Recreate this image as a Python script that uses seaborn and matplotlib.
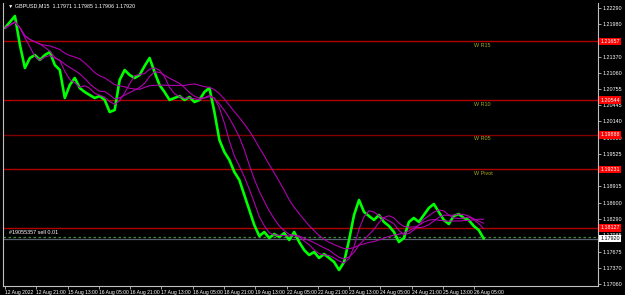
import numpy as np
import pandas as pd
import seaborn as sns
import matplotlib.pyplot as plt
import matplotlib.transforms as mtransforms

# GBPUSD M15 closes, one value every ~10 bars
close = [1.21911, 1.22025, 1.22138, 1.21589, 1.21153, 1.21343, 1.21399, 1.21305, 1.21399, 1.21456,
         1.21210, 1.21115, 1.20585, 1.20831, 1.20964, 1.20774, 1.20698, 1.20641, 1.20585, 1.20622,
         1.20547, 1.20319, 1.20357, 1.20926, 1.21115, 1.21020, 1.20964, 1.21020, 1.21191, 1.21343,
         1.21077, 1.20831, 1.20698, 1.20547, 1.20585, 1.20622, 1.20547, 1.20603, 1.20509, 1.20547,
         1.20698, 1.20774, 1.20319, 1.19789, 1.19561, 1.19410, 1.19182, 1.19031, 1.18746, 1.18462,
         1.18178, 1.17969, 1.18045, 1.17932, 1.18007, 1.17950, 1.18026, 1.17894, 1.18045, 1.17856,
         1.17704, 1.17609, 1.17666, 1.17553, 1.17628, 1.17553, 1.17477, 1.17325, 1.17477, 1.17894,
         1.18367, 1.18652, 1.18424, 1.18348, 1.18273, 1.18367, 1.18235, 1.18159, 1.18045, 1.17856,
         1.17932, 1.18235, 1.18311, 1.18235, 1.18367, 1.18500, 1.18576, 1.18424, 1.18273, 1.18197,
         1.18348, 1.18386, 1.18311, 1.18273, 1.18159, 1.18083, 1.17920]
bar_step = 10.2
ma_periods = [4, 8, 16]

levels = [1.21657, 1.20544, 1.19888, 1.19231, 1.18127]
level_names = ["W R15", "W R10", "W R05", "W Pivot", ""]
level_colors = ["#b00000", "#b00000", "#800000", "#b00000", "#b00000"]

bid = 1.17920
order_price = 1.17955
order_text = "#19055357 sell 0.01"
title = "\u25bc GBPUSD,M15  1.17971 1.17985 1.17906 1.17920"

y_ticks = [1.22290, 1.21980, 1.21370, 1.21060, 1.20755, 1.20445, 1.20140, 1.19830,
           1.19525, 1.18915, 1.18600, 1.18290, 1.17985, 1.17675, 1.17370, 1.17060]
x_labels = ["12 Aug 2022", "12 Aug 21:00", "15 Aug 13:00", "16 Aug 05:00", "16 Aug 21:00",
            "17 Aug 13:00", "18 Aug 05:00", "18 Aug 21:00", "19 Aug 13:00", "22 Aug 05:00",
            "22 Aug 21:00", "23 Aug 13:00", "24 Aug 05:00", "24 Aug 21:00", "25 Aug 13:00",
            "26 Aug 05:00"]
bars_per_label = 64

df = pd.DataFrame({"bar": np.arange(len(close)) * bar_step, "close": close})
for p in ma_periods:
    df[f"ma{p}"] = df["close"].rolling(p, min_periods=1).mean()

sns.set_theme(style="dark", rc={"axes.facecolor": "black", "figure.facecolor": "black"})
plt.rcParams["font.family"] = ["Liberation Sans Narrow", "Liberation Sans", "DejaVu Sans"]
fs = 3.9
fs_x = 3.6

fig = plt.figure(figsize=(6.25, 2.95), dpi=100)
ax = fig.add_axes([3 / 625, 9 / 295, 595 / 625, 283 / 295])
ax.set_facecolor("black")

for lv, name, col in zip(levels, level_names, level_colors):
    ax.axhline(lv, color=col, lw=1.0, zorder=1)
    if name:
        ax.text(960, lv - 0.0008, name, color="#a8a820", fontsize=fs, ha="left", va="center")

ax.axhline(order_price, color="#3a8a3a", lw=0.9, ls=(0, (2, 2)), zorder=1)
ax.axhline(bid, color="#5a6070", lw=0.9, zorder=1)
ax.text(8, order_price + 0.00035, order_text, color="white", fontsize=fs, ha="left", va="bottom")

sns.lineplot(data=df, x="bar", y="close", color="#00ff00", lw=1.9, ax=ax, zorder=3)
for p in ma_periods:
    sns.lineplot(data=df, x="bar", y=f"ma{p}", color="#b000b0", lw=0.8, ax=ax, zorder=4)

ax.set_xlim(-4, 1213)
ax.set_ylim(1.17022, 1.22385)
ax.set_xlabel("")
ax.set_ylabel("")

ax.yaxis.tick_right()
ax.set_yticks(y_ticks)
ax.set_yticklabels([f"{v:.5f}" for v in y_ticks])
ax.set_xticks(np.arange(len(x_labels)) * bars_per_label)
ax.set_xticklabels(x_labels, ha="left")
ax.tick_params(axis="both", colors="#c0c0c0", labelcolor="white", labelsize=fs,
               length=2, width=0.6, direction="out", pad=1)
ax.tick_params(axis="x", bottom=True, labelsize=fs_x)
ax.tick_params(axis="y", right=True, left=False)
ax.grid(False)

for side in ["left", "bottom", "right"]:
    ax.spines[side].set_visible(True)
    ax.spines[side].set_color("#c0c0c0")
    ax.spines[side].set_linewidth(0.8)
ax.spines["top"].set_visible(False)

trans = mtransforms.blended_transform_factory(ax.transAxes, ax.transData)
for lv in levels:
    ax.text(1.004, lv, f"{lv:.5f}", transform=trans, color="white", fontsize=fs, ha="left",
            va="center", clip_on=False,
            bbox=dict(boxstyle="square,pad=0.25", fc="#ff0000", ec="none"))
ax.text(1.004, bid, f"{bid:.5f}", transform=trans, color="black", fontsize=fs, ha="left",
        va="center", clip_on=False, bbox=dict(boxstyle="square,pad=0.25", fc="white", ec="none"))

fig.text(8 / 625, 1 - 6 / 295, title, color="white", fontsize=fs, ha="left", va="center")

fig.savefig("out.png", dpi=100, facecolor="black")
